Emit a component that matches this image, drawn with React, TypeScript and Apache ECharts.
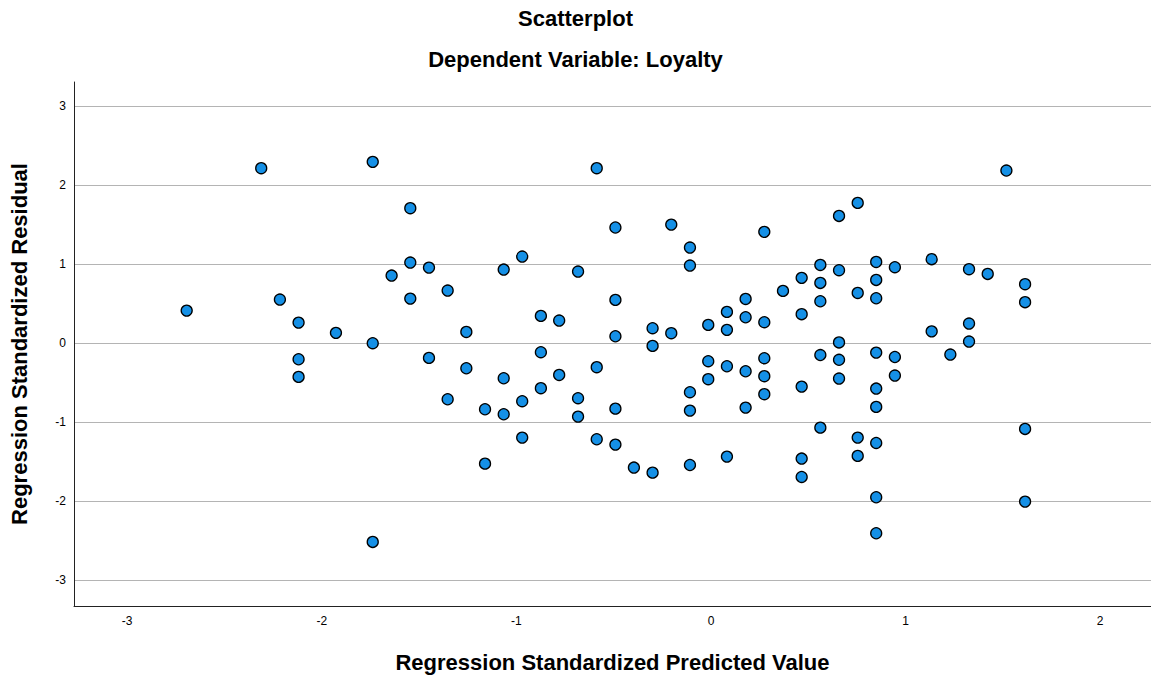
import React, { useEffect, useRef } from "react";
import * as echarts from "echarts";

// Regression standardized predicted values (x) and residuals (y), one entry per case
const predicted: number[] = [
  -2.694, -2.311, -2.215, -2.119, -2.119, -2.119, -1.927, -1.738, -1.738, -1.738,
  -1.641, -1.545, -1.545, -1.545, -1.449, -1.449, -1.353, -1.353, -1.257, -1.257,
  -1.161, -1.161, -1.065, -1.065, -1.065, -0.970, -0.970, -0.970, -0.874, -0.874,
  -0.874, -0.780, -0.780, -0.683, -0.683, -0.683, -0.587, -0.587, -0.587, -0.491,
  -0.491, -0.491, -0.491, -0.491, -0.396, -0.300, -0.300, -0.300, -0.204, -0.204,
  -0.108, -0.108, -0.108, -0.108, -0.108, -0.014, -0.014, -0.014, 0.082, 0.082,
  0.082, 0.082, 0.178, 0.178, 0.178, 0.178, 0.274, 0.274, 0.274, 0.274,
  0.274, 0.370, 0.466, 0.466, 0.466, 0.466, 0.466, 0.562, 0.562, 0.562,
  0.562, 0.562, 0.658, 0.658, 0.658, 0.658, 0.658, 0.754, 0.754, 0.754,
  0.754, 0.849, 0.849, 0.849, 0.849, 0.849, 0.849, 0.849, 0.849, 0.849,
  0.945, 0.945, 0.945, 1.134, 1.134, 1.230, 1.326, 1.326, 1.326, 1.422,
  1.518, 1.614, 1.614, 1.614, 1.614,
];

const residual: number[] = [
  0.413, 2.218, 0.553, 0.261, -0.203, -0.427, 0.131, 2.298, 0.0, -2.518,
  0.857, 1.711, 1.022, 0.565, 0.958, -0.186, 0.667, -0.71, 0.143, -0.317,
  -0.837, -1.526, 0.933, -0.444, -0.9, 1.098, -0.735, -1.196, 0.346, -0.114,
  -0.57, 0.287, -0.402, 0.908, -0.697, -0.93, 2.218, -0.304, -1.217, 1.466,
  0.549, 0.088, -0.829, -1.285, -1.576, 0.19, -0.034, -1.64, 1.503, 0.127,
  1.212, 0.984, -0.621, -0.854, -1.543, 0.232, -0.228, -0.456, 0.397, 0.169,
  -0.292, -1.437, 0.561, 0.329, -0.355, -0.816, 1.411, 0.266, -0.19, -0.418,
  -0.646, 0.663, 0.828, 0.368, -0.55, -1.462, -1.695, 0.992, 0.764, 0.532,
  -0.15, -1.07, 1.613, 0.925, 0.01, -0.21, -0.448, 1.778, 0.637, -1.196,
  -1.428, 1.03, 0.802, 0.57, -0.119, -0.575, -0.807, -1.264, -1.952, -2.408,
  0.963, -0.175, -0.41, 1.065, 0.15, -0.144, 0.938, 0.249, 0.021, 0.878,
  2.188, 0.748, 0.52, -1.086, -2.007,
];

const xTicks: number[] = [-3, -2, -1, 0, 1, 2];
const yTicks: number[] = [-3, -2, -1, 0, 1, 2, 3];

const FONT = "'Liberation Sans', Arial, sans-serif";
const HEAD = { fontFamily: FONT, fontSize: 22, fontWeight: "bold", color: "#000" };

export default function App() {
  const ref = useRef<HTMLDivElement>(null);

  useEffect(() => {
    if (!ref.current) return;
    const chart = echarts.init(ref.current, undefined, { renderer: "svg" });
    const points = predicted.map((x, i) => [x, residual[i]]);

    chart.setOption({
      animation: false,
      backgroundColor: "#ffffff",
      textStyle: { fontFamily: FONT },
      title: [
        { text: "Scatterplot", left: "center", top: 2, textStyle: HEAD },
        { text: "Dependent Variable: Loyalty", left: "center", top: 43, textStyle: HEAD },
      ],
      grid: { left: 74, right: 0, top: 82, bottom: 74, containLabel: false },
      xAxis: {
        type: "value",
        min: -3.273,
        max: 2.261,
        name: "Regression Standardized Predicted Value",
        nameLocation: "middle",
        nameGap: 45,
        nameTextStyle: HEAD,
        axisLine: { show: true, onZero: false, lineStyle: { color: "#222", width: 1 } },
        axisTick: { show: false, customValues: xTicks },
        axisLabel: {
          customValues: xTicks,
          color: "#000",
          fontSize: 12,
          margin: 9,
          fontFamily: FONT,
        },
        splitLine: { show: false },
      },
      yAxis: {
        type: "value",
        min: -3.33,
        max: 3.31,
        name: "Regression Standardized Residual",
        nameLocation: "middle",
        nameGap: 44,
        nameTextStyle: HEAD,
        axisLine: { show: true, onZero: false, lineStyle: { color: "#222", width: 1 } },
        axisTick: { show: false, customValues: yTicks },
        axisLabel: {
          customValues: yTicks,
          color: "#000",
          fontSize: 12,
          margin: 8,
          fontFamily: FONT,
        },
        splitLine: { show: true, lineStyle: { color: "#b4b4b4", width: 1 } },
      },
      series: [
        {
          type: "scatter",
          data: points,
          symbol: "circle",
          symbolSize: 11,
          itemStyle: { color: "#1590e6", opacity: 1, borderColor: "#000", borderWidth: 1.3 },
        },
      ],
    });

    return () => chart.dispose();
  }, []);

  return (
    <div
      ref={ref}
      style={{ position: "fixed", left: 0, top: 0, width: 1151, height: 680 }}
    />
  );
}
